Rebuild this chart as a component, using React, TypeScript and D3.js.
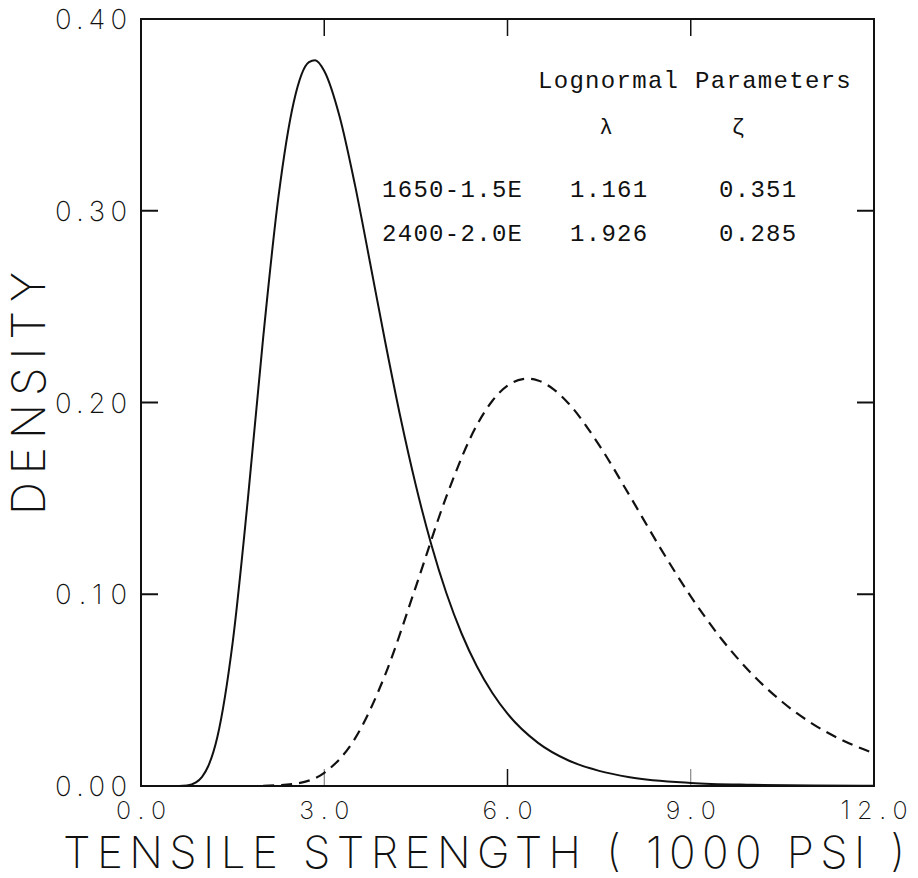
import React from 'react';
import * as d3 from 'd3';

// Axis ticks
const xTickValues = [0, 3, 6, 9, 12];
const xTickLabels = ['0.0', '3.0', '6.0', '9.0', '12.0'];
const yTickValues = [0, 0.1, 0.2, 0.3, 0.4];
const yTickLabels = ['0.00', '0.10', '0.20', '0.30', '0.40'];

// Series 1650-1.5E (solid)
const solidX = [0, 0.5, 0.75, 0.9, 1.0, 1.1, 1.25, 1.5, 1.75, 2.0, 2.25, 2.5, 2.75, 2.85, 3.0, 3.25, 3.5, 3.75, 4.0, 4.25, 4.5, 4.75, 5.0, 5.25, 5.5, 5.75, 6.0, 6.5, 7.0, 7.5, 8.0, 9.0, 10.0, 11.0, 12.0];
const solidY = [0, 0, 0.0003, 0.0019, 0.0048, 0.0103, 0.0256, 0.0747, 0.1497, 0.2338, 0.3072, 0.3566, 0.3775, 0.3785, 0.3729, 0.3493, 0.3139, 0.2729, 0.2313, 0.1919, 0.1567, 0.1262, 0.1005, 0.0794, 0.0623, 0.0486, 0.0377, 0.0225, 0.0133, 0.0079, 0.0046, 0.0016, 0.0006, 0.0002, 0.0001];

// Series 2400-2.0E (dashed)
const dashX = [2.0, 2.5, 3.0, 3.5, 4.0, 4.5, 5.0, 5.5, 5.75, 6.0, 6.25, 6.35, 6.5, 6.75, 7.0, 7.5, 8.0, 8.5, 9.0, 9.5, 10.0, 10.5, 11.0, 11.5, 12.0];
const dashY = [0.0001, 0.0011, 0.0069, 0.0246, 0.0582, 0.1040, 0.1510, 0.1883, 0.2008, 0.2088, 0.2122, 0.2124, 0.2115, 0.2070, 0.1995, 0.1778, 0.1514, 0.1242, 0.0989, 0.0768, 0.0585, 0.0438, 0.0323, 0.0236, 0.0171];

// Legend table
const legendTitle = 'Lognormal Parameters';
const legendHeaders = ['λ', 'ζ'];
const legendNames = ['1650-1.5E', '2400-2.0E'];
const legendLambda = ['1.161', '1.926'];
const legendZeta = ['0.351', '0.285'];

const xTitle = 'TENSILE STRENGTH ( 1000 PSI )';
const yTitle = 'DENSITY';

const PLOT = "Inter, 'DejaVu Sans', sans-serif";
const TYPE = "'Liberation Mono', 'DejaVu Sans Mono', monospace";

export default function App() {
  const left = 141, right = 874, top = 19, bottom = 786;
  const x = d3.scaleLinear().domain([0, 12]).range([left, right]);
  const y = d3.scaleLinear().domain([0, 0.4]).range([bottom, top]);
  const line = d3
    .line<[number, number]>()
    .x((d) => x(d[0]))
    .y((d) => y(d[1]))
    .curve(d3.curveMonotoneX);
  const solidPts = solidX.map((v, i) => [v, solidY[i]] as [number, number]);
  const dashPts = dashX.map((v, i) => [v, dashY[i]] as [number, number]);

  const ink = '#111';
  const tickLen = 17;

  return (
    <svg
      width={918}
      height={878}
      style={{ position: 'absolute', left: 0, top: 0, display: 'block', background: '#fff' }}
    >
      <rect x={0} y={0} width={918} height={878} fill="#fff" />
      {/* frame */}
      <rect x={left} y={top} width={right - left} height={bottom - top} fill="none" stroke={ink} strokeWidth={2} />

      {/* y ticks left & right */}
      {yTickValues.slice(1, 4).map((v) => (
        <g key={'yt' + v}>
          <line x1={left} x2={left + tickLen} y1={y(v)} y2={y(v)} stroke={ink} strokeWidth={2} />
          <line x1={right} x2={right - tickLen} y1={y(v)} y2={y(v)} stroke={ink} strokeWidth={2} />
        </g>
      ))}
      {/* x ticks top & bottom */}
      {xTickValues.slice(1, 4).map((v) => (
        <g key={'xt' + v}>
          <line x1={x(v)} x2={x(v)} y1={top} y2={top + tickLen} stroke={ink} strokeWidth={1.5} />
          <line x1={x(v)} x2={x(v)} y1={bottom} y2={bottom - tickLen} stroke={ink} strokeWidth={v === 6 ? 1.5 : 1} strokeOpacity={v === 6 ? 1 : 0.6} />
        </g>
      ))}

      {/* y tick labels */}
      {yTickValues.map((v, i) => (
        <text
          key={'yl' + v}
          x={127}
          y={y(v) + 10}
          textAnchor="end"
          fontFamily={PLOT}
          fontWeight={200}
          fontSize={27.5}
          fill={ink}
          textLength={72}
          lengthAdjust="spacing"
        >
          {yTickLabels[i]}
        </text>
      ))}
      {/* x tick labels */}
      {xTickValues.map((v, i) => {
        const w = xTickLabels[i].length === 4 ? 67 : 50;
        return (
          <text
            key={'xl' + v}
            x={x(v) - w / 2}
            y={819}
            fontFamily={PLOT}
            fontWeight={200}
            fontSize={25}
            fill={ink}
            textLength={w}
            lengthAdjust="spacing"
          >
            {xTickLabels[i]}
          </text>
        );
      })}

      {/* axis titles */}
      <text
        x={63}
        y={868}
        fontFamily={PLOT}
        fontWeight={200}
        fontSize={44}
        fill={ink}
        textLength={842}
        lengthAdjust="spacing"
        style={{ whiteSpace: 'pre' }}
      >
        {xTitle}
      </text>
      <text
        transform="translate(45,515) rotate(-90)"
        x={0}
        y={0}
        fontFamily={PLOT}
        fontWeight={200}
        fontSize={46}
        fill={ink}
        textLength={243}
        lengthAdjust="spacing"
      >
        {yTitle}
      </text>

      {/* curves */}
      <path d={line(solidPts) || ''} fill="none" stroke={ink} strokeWidth={2} />
      <path d={line(dashPts) || ''} fill="none" stroke={ink} strokeWidth={2.2} strokeDasharray="11,7" />

      {/* legend table */}
      <text x={538} y={88} fontFamily={TYPE} fontSize={24} letterSpacing={1.3} fill={ink}>
        {legendTitle}
      </text>
      <text x={606} y={134} textAnchor="middle" fontFamily={TYPE} fontSize={22} fill={ink}>
        {legendHeaders[0]}
      </text>
      <text x={738} y={134} textAnchor="middle" fontFamily={TYPE} fontSize={22} fill={ink}>
        {legendHeaders[1]}
      </text>
      {legendNames.map((n, i) => (
        <g key={n}>
          <text x={382} y={197 + i * 44} fontFamily={TYPE} fontSize={24} letterSpacing={1.3} fill={ink}>
            {n}
          </text>
          <text x={570} y={197 + i * 44} fontFamily={TYPE} fontSize={24} letterSpacing={1.3} fill={ink}>
            {legendLambda[i]}
          </text>
          <text x={719} y={197 + i * 44} fontFamily={TYPE} fontSize={24} letterSpacing={1.3} fill={ink}>
            {legendZeta[i]}
          </text>
        </g>
      ))}
    </svg>
  );
}
